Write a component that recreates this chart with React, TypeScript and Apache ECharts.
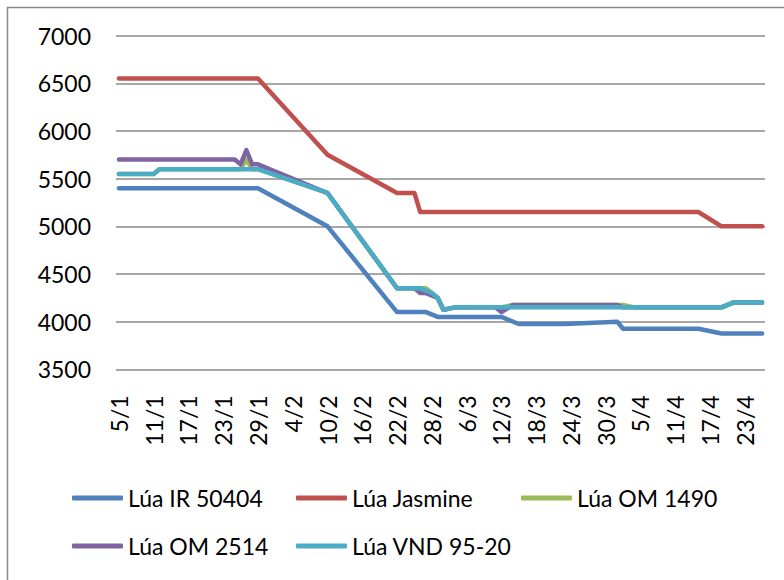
import React, { useEffect, useRef } from "react";
import * as echarts from "echarts";

// Category axis: every day from 5/1 to 26/4 (non-leap year)
const firstDay = new Date(2015, 0, 5);
const lastDay = new Date(2015, 3, 26);
const dayLabels: string[] = [];
for (let t = new Date(firstDay); t <= lastDay; t.setDate(t.getDate() + 1)) {
  dayLabels.push(`${t.getDate()}/${t.getMonth() + 1}`);
}

const seriesNames = ["Lúa IR 50404", "Lúa Jasmine", "Lúa OM 1490", "Lúa OM 2514", "Lúa VND 95-20"];
const seriesColors = ["#4F81BD", "#C0504D", "#9BBB59", "#8064A2", "#4BACC6"];

const irDates = ["5/1", "29/1", "10/2", "22/2", "27/2", "1/3", "12/3", "15/3", "23/3", "1/4", "2/4", "15/4", "19/4", "26/4"];
const irValues = [5400, 5400, 5000, 4100, 4100, 4050, 4050, 3975, 3975, 4000, 3925, 3925, 3875, 3875];

const jasmineDates = ["5/1", "29/1", "10/2", "22/2", "25/2", "26/2", "15/4", "19/4", "26/4"];
const jasmineValues = [6550, 6550, 5750, 5350, 5350, 5150, 5150, 5000, 5000];

const om1490Dates = ["5/1", "11/1", "12/1", "26/1", "27/1", "28/1", "29/1", "10/2", "22/2", "27/2", "1/3", "2/3", "4/3", "12/3", "14/3", "2/4", "4/4", "19/4", "21/4", "26/4"];
const om1490Values = [5550, 5550, 5600, 5600, 5700, 5600, 5600, 5350, 4350, 4350, 4250, 4125, 4150, 4150, 4175, 4175, 4150, 4150, 4200, 4200];

const om2514Dates = ["5/1", "25/1", "26/1", "27/1", "28/1", "29/1", "10/2", "22/2", "25/2", "26/2", "27/2", "1/3", "2/3", "4/3", "11/3", "12/3", "14/3", "1/4", "2/4", "19/4", "21/4", "26/4"];
const om2514Values = [5700, 5700, 5650, 5800, 5650, 5650, 5350, 4350, 4350, 4300, 4300, 4250, 4125, 4150, 4150, 4100, 4175, 4175, 4150, 4150, 4200, 4200];

const vndDates = ["5/1", "11/1", "12/1", "29/1", "10/2", "22/2", "26/2", "28/2", "1/3", "2/3", "4/3", "19/4", "21/4", "26/4"];
const vndValues = [5550, 5550, 5600, 5600, 5350, 4350, 4350, 4300, 4250, 4125, 4150, 4150, 4200, 4200];

const allDates = [irDates, jasmineDates, om1490Dates, om2514Dates, vndDates];
const allValues = [irValues, jasmineValues, om1490Values, om2514Values, vndValues];

const yMin = 3500;
const yMax = 7000;
const yStep = 500;

const FONT = "Lato";
const FS = 23;

export default function App() {
  const ref = useRef<HTMLDivElement>(null);
  useEffect(() => {
    if (!ref.current) return;
    const chart = echarts.init(ref.current, undefined, { renderer: "svg" });
    const legendPos = [
      { left: 72, top: 484 },
      { left: 296, top: 484 },
      { left: 521, top: 484 },
      { left: 72, top: 532 },
      { left: 296, top: 532 },
    ];
    chart.setOption({
      animation: false,
      backgroundColor: "#ffffff",
      textStyle: { fontFamily: FONT },
      graphic: [
        {
          type: "rect",
          shape: { x: 7.5, y: 7.5, width: 1000, height: 1000 },
          style: { fill: "none", stroke: "#8a8a8a", lineWidth: 1.5 },
          silent: true,
        },
      ],
      grid: { left: 116, right: 19, top: 35.7, bottom: 210.7, containLabel: false },
      legend: seriesNames.map((n, i) => ({
        data: [n],
        left: legendPos[i].left,
        top: legendPos[i].top,
        padding: 0,
        itemWidth: 51,
        itemHeight: 5,
        icon: "roundRect",
        textStyle: { fontFamily: FONT, fontSize: FS, color: "#000", lineHeight: 28 },
      })),
      xAxis: {
        type: "category",
        data: dayLabels,
        boundaryGap: true,
        axisLine: { show: false },
        axisTick: { show: false },
        axisLabel: {
          interval: 5,
          rotate: 90,
          margin: 26,
          fontFamily: FONT,
          fontSize: FS,
          color: "#000",
        },
        splitLine: { show: false },
      },
      yAxis: {
        type: "value",
        min: yMin,
        max: yMax,
        interval: yStep,
        axisLine: { show: false },
        axisTick: { show: false },
        axisLabel: {
          margin: 25,
          fontFamily: FONT,
          fontSize: FS,
          color: "#000",
          formatter: (v: number) => String(v),
        },
        splitLine: { show: true, lineStyle: { color: "#8a8a8a", width: 1.5 } },
      },
      series: seriesNames.map((n, i) => ({
        name: n,
        type: "line",
        showSymbol: false,
        symbol: "none",
        color: seriesColors[i],
        lineStyle: { width: 4.5, color: seriesColors[i], cap: "round", join: "round" },
        data: allDates[i].map((d, j) => [d, allValues[i][j]]),
      })),
    });
    return () => chart.dispose();
  }, []);
  return (
    <div
      ref={ref}
      style={{ position: "absolute", left: 0, top: 0, width: 784, height: 580, background: "#fff" }}
    />
  );
}
